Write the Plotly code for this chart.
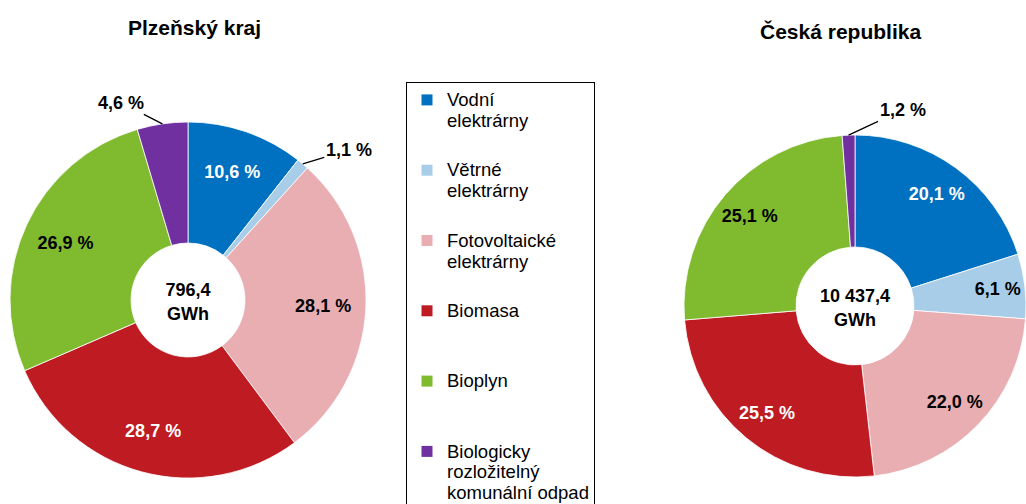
import math
import plotly.graph_objects as go

# ---------------- data ----------------
categories = ["Vodní elektrárny", "Větrné elektrárny", "Fotovoltaické elektrárny",
              "Biomasa", "Bioplyn", "Biologicky rozložitelný komunální odpad"]
legend_lines = [["Vodní", "elektrárny"], ["Větrné", "elektrárny"], ["Fotovoltaické", "elektrárny"],
                ["Biomasa", " "], ["Bioplyn", " "], ["Biologicky", "rozložitelný", "komunální odpad"]]
plzen_share = [10.6, 1.1, 28.1, 28.7, 26.9, 4.6]
cr_share = [20.1, 6.1, 22.0, 25.5, 25.1, 1.2]
totals_gwh = [796.4, 10437.4]
titles = ["Plzeňský kraj", "Česká republika"]

colors = ["#0070C0", "#A8CDE8", "#E8AEB2", "#BE1B23", "#7FBA2F", "#7030A0"]
plzen_textcol = ["white", "black", "black", "white", "black", "black"]
cr_textcol = ["white", "black", "black", "white", "black", "black"]
plzen_outside = [False, True, False, False, False, True]
cr_outside = [False, False, False, False, False, True]

# ---------------- layout geometry (px) ----------------
# the page is a little taller than the 504 px window so the legend box runs off the bottom edge
W, H = 1026, 560
FONT = "Liberation Sans, Arial, sans-serif"
pies = [
    dict(vals=plzen_share, tcol=plzen_textcol, out=plzen_outside, cx=188, cy=300, r=178, hole=0.32,
         text_hole=0.52, title_xy=(194, 27), offsets={1: (46, -14), 5: (-41, -21)}),
    dict(vals=cr_share, tcol=cr_textcol, out=cr_outside, cx=855, cy=306, r=171, hole=0.345,
         text_hole=0.62, title_xy=(840, 31), offsets={5: (54, -25)}),
]


def fmt_num(v):
    s = f"{v:,.1f}"
    return s.replace(",", " ").replace(".", ",")


fig = go.Figure()
annotations = []
for k, p in enumerate(pies):
    cx, cy, r = p["cx"], p["cy"], p["r"]
    dom = dict(x=[(cx - r) / W, min((cx + r) / W, 1.0)], y=[1 - (cy + r) / H, 1 - (cy - r) / H])
    # coloured donut
    fig.add_trace(go.Pie(
        labels=categories, values=p["vals"], sort=False, direction="clockwise", rotation=0,
        hole=p["hole"],
        marker=dict(colors=colors, line=dict(color="white", width=0.8)),
        textinfo="none",
        title=dict(text="<b>" + fmt_num(totals_gwh[k]) + "<br>GWh</b>", position="middle center",
                   font=dict(family=FONT, size=18, color="black")),
        domain=dom, showlegend=False, hoverinfo="label+percent",
    ))
    # transparent ring carrying the inside labels (pushes them toward the outer edge)
    fig.add_trace(go.Pie(
        labels=categories, values=p["vals"], sort=False, direction="clockwise", rotation=0,
        hole=p["text_hole"],
        marker=dict(colors=["rgba(0,0,0,0)"] * len(colors), line=dict(width=0)),
        texttemplate="<b>%{value:.1f} %</b>",
        textposition=["none" if o else "inside" for o in p["out"]],
        insidetextorientation="horizontal",
        textfont=dict(family=FONT, size=18, color=p["tcol"]),
        domain=dom, showlegend=False, hoverinfo="skip",
    ))
    tx, ty = p["title_xy"]
    annotations.append(dict(text="<b>" + titles[k] + "</b>", x=tx / W, y=1 - ty / H, xref="paper", yref="paper",
                            showarrow=False, font=dict(family=FONT, size=21, color="black"),
                            xanchor="center", yanchor="middle"))
    total = sum(p["vals"])
    for i, o in enumerate(p["out"]):
        if not o:
            continue
        cum = sum(p["vals"][:i]) + p["vals"][i] / 2
        ang = 2 * math.pi * cum / total
        ex, ey = cx + r * math.sin(ang), cy - r * math.cos(ang)
        ax, ay = p["offsets"][i]
        annotations.append(dict(text="<b>" + fmt_num(p["vals"][i]) + " %</b>", x=ex / W, y=1 - ey / H,
                                xref="paper", yref="paper", showarrow=True, arrowhead=0, arrowwidth=1.3,
                                arrowcolor="black", standoff=0, ax=ax, ay=ay,
                                font=dict(family=FONT, size=18, color="black")))

# legend: glyphs at 18.5 px on a tighter 16 px line grid
for i, (lines, c) in enumerate(zip(legend_lines, colors)):
    name = "<br>".join("<span style='font-size:18.5px'>" + ln + "</span>" for ln in lines)
    fig.add_trace(go.Scatter(x=[None], y=[None], mode="markers", name=name, legendgroup=str(i),
                             marker=dict(symbol="square", size=11, color=c), showlegend=True))

fig.update_layout(
    width=W, height=H,
    margin=dict(l=0, r=0, t=0, b=0),
    paper_bgcolor="white", plot_bgcolor="white",
    separators=", ",
    xaxis=dict(visible=False), yaxis=dict(visible=False),
    font=dict(family=FONT, color="black"),
    annotations=annotations,
    legend=dict(x=406 / W, y=1 - 82 / H, xanchor="left", yanchor="top",
                bordercolor="black", borderwidth=1, bgcolor="white",
                font=dict(family=FONT, size=16, color="black"),
                valign="top", tracegroupgap=25.7, traceorder="grouped",
                itemclick=False, itemdoubleclick=False),
)

fig.write_html("out.html", config={"displayModeBar": False},
               post_script="document.body.style.margin='0';document.body.style.overflow='hidden';")
